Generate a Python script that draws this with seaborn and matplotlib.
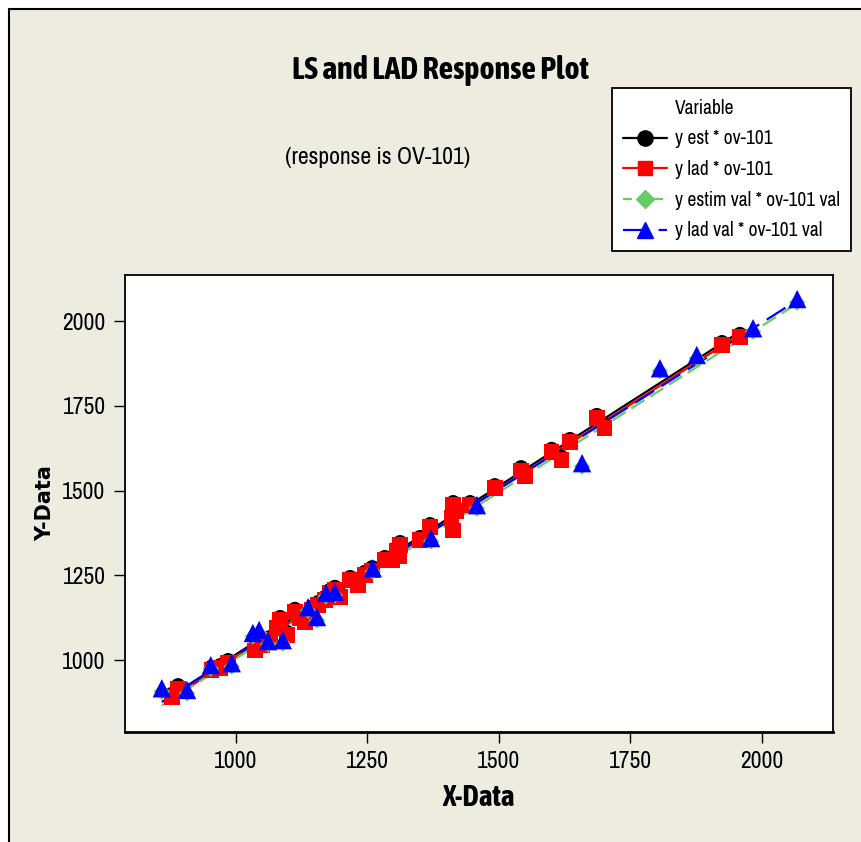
import matplotlib
matplotlib.use("Agg")
import matplotlib.pyplot as plt
from matplotlib import font_manager
from matplotlib.lines import Line2D
from matplotlib.patches import Rectangle
import seaborn as sns
import pandas as pd

# ---------------- data ----------------
ov101 = [878, 890, 953, 970, 985, 1036, 1049, 1065, 1078, 1084, 1097, 1112, 1122, 1131,
         1144, 1156, 1169, 1179, 1188, 1198, 1217, 1232, 1245, 1259, 1283, 1297, 1305,
         1310, 1312, 1350, 1369, 1410, 1413, 1413, 1418, 1445, 1492, 1542, 1549, 1600,
         1619, 1635, 1686, 1701, 1924, 1958]
y_lad = [891, 917, 971, 976, 991, 1029, 1044, 1059, 1094, 1118, 1074, 1142, 1124, 1112,
         1148, 1162, 1177, 1198, 1207, 1186, 1236, 1221, 1251, 1265, 1295, 1295, 1322,
         1305, 1339, 1354, 1392, 1420, 1457, 1383, 1440, 1457, 1507, 1560, 1543, 1614,
         1590, 1643, 1714, 1685, 1929, 1953]
y_est = [899, 925, 979, 984, 999, 1037, 1052, 1067, 1102, 1126, 1082, 1150, 1132, 1120,
         1156, 1170, 1185, 1206, 1215, 1194, 1244, 1229, 1259, 1273, 1303, 1303, 1330,
         1313, 1347, 1362, 1400, 1428, 1465, 1391, 1448, 1465, 1515, 1568, 1551, 1622,
         1598, 1651, 1722, 1693, 1937, 1961]

ov101_val = [859, 907, 952, 992, 1032, 1044, 1061, 1089, 1137, 1154, 1171, 1188, 1260,
             1371, 1458, 1658, 1806, 1876, 1983, 2067]
y_lad_val = [917, 912, 985, 991, 1080, 1089, 1056, 1059, 1156, 1127, 1198, 1201, 1271,
             1360, 1457, 1581, 1861, 1900, 1979, 2065]
y_estim_val = [907, 902, 975, 981, 1070, 1079, 1046, 1049, 1146, 1117, 1188, 1191, 1261,
               1350, 1447, 1571, 1853, 1890, 1969, 2055]

series_labels = ["y est * ov-101", "y lad * ov-101",
                 "y estim val * ov-101 val", "y lad val * ov-101 val"]
x_ticks = [1000, 1250, 1500, 1750, 2000]
y_ticks = [1000, 1250, 1500, 1750, 2000]

train = pd.DataFrame({"x": ov101, "y_est": y_est, "y_lad": y_lad})
val = pd.DataFrame({"x": ov101_val, "y_estim": y_estim_val, "y_lad": y_lad_val})

# ---------------- fonts ----------------
names = {f.name for f in font_manager.fontManager.ttflist}
if "Archivo Narrow" in names:
    NARROW = dict(family=["Archivo Narrow", "DejaVu Sans"])
else:
    NARROW = dict(family=["DejaVu Sans"], stretch="condensed")
if "Asap Condensed" in names:
    NARROW_B = dict(family=["Asap Condensed", "DejaVu Sans"], fontweight="bold")
else:
    NARROW_B = dict(NARROW, fontweight="bold")

sns.set_style("white")
plt.rcParams["text.color"] = "black"
plt.rcParams["xtick.color"] = "black"
plt.rcParams["ytick.color"] = "black"

BEIGE = "#EEEBE1"
GREEN = "#66CC66"

fig = plt.figure(figsize=(8.61, 8.42), dpi=100)
fig.patch.set_facecolor("white")
fig.patches.append(Rectangle((9 / 861, -0.1), 1.2, 1 - 9 / 842 + 0.1,
                             transform=fig.transFigure, facecolor=BEIGE,
                             edgecolor="black", linewidth=1.5, zorder=-5))

ax = fig.add_axes([125 / 861, 1 - 732 / 842, (833 - 125) / 861, (732 - 275) / 842])
ax.set_facecolor("white")

specs = [
    (train, "y_est", "o", 115, "black", None),
    (train, "y_lad", "s", 125, "red", None),
    (val, "y_estim", "D", 70, GREEN, (7, 3)),
    (val, "y_lad", "^", 175, "blue", (10, 4)),
]
for df, col, mk, sz, colr, dash in specs:
    lk = dict(color=colr, lw=1.6, zorder=2)
    if dash is not None:
        lk["dashes"] = dash
    sns.regplot(data=df, x="x", y=col, ax=ax, ci=None, marker=mk, color=colr,
                scatter_kws=dict(s=sz, color=colr, edgecolors="none", alpha=1, zorder=3),
                line_kws=lk)

ax.set_xlim(789, 2135)
ax.set_ylim(788, 2136)
ax.set_xticks(x_ticks)
ax.set_yticks(y_ticks)
ax.set_xticklabels([str(t) for t in x_ticks], fontsize=17, **NARROW)
ax.set_yticklabels([str(t) for t in y_ticks], fontsize=17, **NARROW)
ax.tick_params(axis="both", direction="out", length=8, width=1, color="black",
               bottom=True, left=True, pad=6)
for s in ax.spines.values():
    s.set_visible(True)
    s.set_color("black")
    s.set_linewidth(1.3)
ax.spines["bottom"].set_linewidth(2)
ax.set_xlabel("")
ax.set_ylabel("")

fig.text(478 / 861, 1 - 797 / 842, "X-Data", ha="center", va="center",
         fontsize=21, **NARROW_B)
fig.text(45 / 861, 1 - 503 / 842, "Y-Data", ha="center", va="center", rotation=90,
         fontsize=15, fontweight="bold", family="DejaVu Sans")
fig.text(440 / 861, 1 - 70 / 842, "LS and LAD Response Plot", ha="center", va="center",
         fontsize=23, **NARROW_B)
fig.text(378 / 861, 1 - 158 / 842, "(response is OV-101)", ha="center", va="center",
         fontsize=17, **NARROW)

handles = [
    Line2D([], [], linestyle="none", marker=None),
    Line2D([], [], color="black", lw=1.6, marker="o", markersize=11),
    Line2D([], [], color="red", lw=1.6, marker="s", markersize=10),
    Line2D([], [], color=GREEN, lw=1.6, linestyle=(0, (4, 3)), marker="D", markersize=9),
    Line2D([], [], color="blue", lw=1.6, linestyle=(0, (10, 6)), marker="^", markersize=12),
]
leg = fig.legend(handles, ["Variable"] + series_labels, loc="upper left",
                 bbox_to_anchor=(612 / 861, 1 - 88 / 842), borderaxespad=0,
                 frameon=True, fancybox=False, edgecolor="black", framealpha=1,
                 handlelength=2.3, handletextpad=0.4, labelspacing=0.6,
                 borderpad=0.55, prop=dict(size=14, **NARROW))
leg.get_frame().set_linewidth(1.3)

fig.savefig("out.png", dpi=100, facecolor=fig.get_facecolor())
